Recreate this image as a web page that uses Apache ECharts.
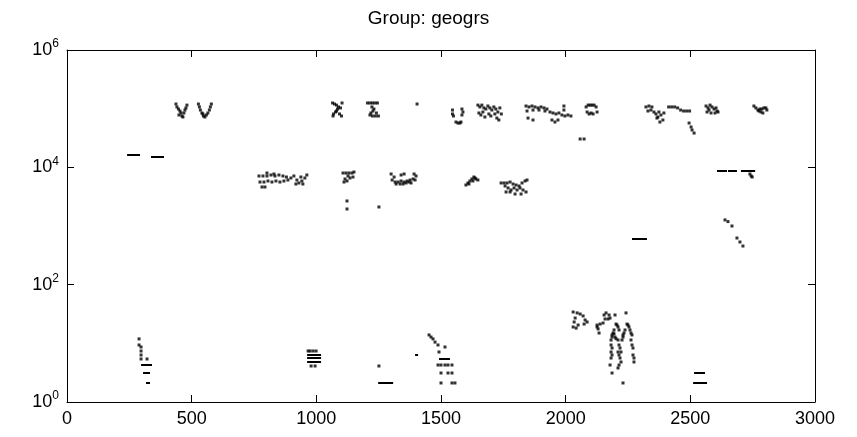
<!DOCTYPE html>
<html>
<head>
<meta charset="utf-8">
<script src="https://cdn.jsdelivr.net/npm/echarts@6/dist/echarts.min.js"></script>
<style>
  html, body { margin: 0; padding: 0; background: #fff; }
  #main { width: 857px; height: 437px; }
</style>
</head>
<body>
<div id="main"></div>
<script>
// chart text
var titleText = 'Group: geogrs';
var xTicks = [0, 500, 1000, 1500, 2000, 2500, 3000];
var yTicks = [1, 100, 10000, 1000000];

// points around 10^5
var topPts = [
  [437,120000],[441,107000],[447,98600],[453,91200],[457,84400],[461,75000],[465,72100],[469,84400],[473,94800],[477,103000],[481,115000],[449,78000],
  [527,120000],[531,107000],[535,94800],[541,84400],[547,75000],[553,72100],[559,78000],[565,84400],[571,94800],[575,107000],[579,120000],[545,81200],
  [1065,125000],[1073,120000],[1081,115000],[1089,107000],[1097,103000],[1103,125000],[1085,98600],[1077,87700],[1069,81200],[1067,75000],[1093,81200],[1101,75000],[1081,91200],
  [1205,125000],[1215,125000],[1225,125000],[1235,125000],[1245,125000],[1223,107000],[1231,98600],[1227,91200],[1219,84400],[1215,78000],[1225,75000],[1237,75000],[1249,75000],[1241,84400],
  [1404,120000],
  [1546,94800],[1546,81200],[1550,75000],[1584,98600],[1588,87700],[1584,78000],[1560,59200],[1568,56900],[1576,56900],[1580,59200],
  [1648,115000],[1656,107000],[1664,115000],[1672,103000],[1680,98600],[1688,111000],[1696,103000],[1704,94800],[1712,107000],[1720,98600],[1728,87700],[1736,103000],[1742,81200],
  [1652,84400],[1660,78000],[1668,87700],[1676,72100],[1692,81200],[1700,75000],[1716,81200],[1724,69200],[1732,64100],
  [1841,111000],[1853,107000],[1865,111000],[1877,107000],[1889,103000],[1901,107000],[1913,103000],[1925,98600],[1845,91200],[1869,94800],[1893,94800],[1917,91200],
  [1937,87700],[1949,84400],[1961,81200],[1973,84400],[1985,78000],[1997,75000],[2009,78000],[2021,75000],[1945,64100],[1957,59200],[1969,64100],[1993,111000],[1993,94800],[1849,69200],[1869,64100],
  [2058,30400],[2074,30400],
  [2082,107000],[2090,115000],[2098,115000],[2106,115000],[2114,115000],[2122,107000],[2086,87700],[2094,81200],[2110,81200],[2126,87700],[2102,84400],
  [2322,107000],[2334,111000],[2346,107000],[2330,91200],[2342,94800],[2354,87700],[2362,81200],[2370,72100],[2374,87700],[2382,78000],[2390,64100],[2378,59200],[2366,69200],[2394,84400],
  [2413,107000],[2425,107000],[2437,107000],[2449,103000],[2461,94800],[2473,91200],[2485,91200],[2497,91200],
  [2495,56900],[2503,48700],[2507,43300],[2515,38400],
  [2563,111000],[2571,103000],[2579,115000],[2587,107000],[2595,98600],[2603,103000],[2607,91200],[2567,87700],[2583,84400],[2599,84400],[2611,87700],[2575,94800],
  [2755,111000],[2763,103000],[2771,94800],[2779,98600],[2787,98600],[2795,103000],[2803,103000],[2807,94800],[2783,87700],[2791,84400],[2775,91200]
];

// points around 10^3 - 10^4
var midPts = [
  [770,7120],[786,7120],[802,7120],[818,7400],[834,7120],[850,7400],[866,7120],[774,5620],[790,5620],[806,5850],[822,5620],[838,5850],[854,5620],[870,5850],
  [886,6080],[898,6580],[910,7120],[922,6080],[930,5410],[942,5850],[954,6580],[962,7400],[918,5200],[946,5200],[802,8000],[830,7700],[880,6840],[938,6840],[782,4620],[794,4620],
  [1107,8000],[1119,8000],[1131,8000],[1143,8000],[1151,8320],[1127,7120],[1135,6580],[1115,6330],[1123,5850],[1147,6840],[1111,5620],
  [1300,7700],[1312,6840],[1340,7400],[1352,7700],[1392,7700],[1400,7120],[1304,6080],[1316,5620],[1328,5620],[1340,5850],[1352,5620],[1364,5850],[1376,6080],[1388,6330],[1396,6080],
  [1320,5200],[1336,5200],[1348,5200],[1360,5410],[1372,5620],[1380,5410],
  [1123,2670],[1123,1950],[1251,2110],
  [1600,5000],[1608,5410],[1616,5850],[1624,6330],[1632,6840],[1640,6330],[1648,6080],[1612,5200],[1628,5850],[1636,6580],
  [1741,5410],[1753,5410],[1765,5410],[1777,5620],[1789,5200],[1801,5000],[1813,4810],[1825,5410],[1837,5850],[1845,6080],[1757,4810],[1769,4450],[1781,4110],
  [1793,4450],[1805,4110],[1817,4450],[1829,4110],[1777,3800],[1797,3510],[1821,3510],[1841,3800],[1761,3800],
  [2739,7700],[2748,6840],[2744,7120],
  [2639,1270],[2651,1190],[2667,1000],[2687,624],[2699,534],[2711,456]
];

// points below 10^2
var lowPts = [
  [289,11.9],[289,9.37],[297,8.66],[297,7.40],[297,6.33],[297,5.41],[321,5.41],
  [967,7.40],[975,7.40],[987,7.40],[999,7.40],[979,4.11],[995,4.11],
  [1251,4.11],
  [1452,13.9],[1460,12.8],[1468,11.9],[1476,10.5],[1488,9.37],[1516,8.66],[1492,7.12],[1488,4.27],[1500,4.27],[1516,4.27],[1528,4.27],[1544,4.27],
  [1500,3.12],[1528,3.12],[1544,3.12],[1500,2.11],[1544,2.11],[1556,2.11],
  [2030,34.2],[2046,33],[2058,31.6],[2070,29.3],[2078,25],[2038,27],[2034,23.1],[2050,20.5],[2030,19],[2074,21.3],[2086,23.1],[2042,18.2],
  [2126,20.5],[2138,21.3],[2150,22.2],[2130,17.6],[2134,15.0],[2126,19.0],
  [2154,30.4],[2162,33],[2174,30.4],[2178,27],[2158,26],[2170,26],
  [2198,30.4],[2242,33],
  [2206,20.5],[2202,21.3],[2210,19],[2194,16.9],[2190,15],[2186,13.9],[2214,16.9],[2186,12.8],[2182,11.4],[2182,9.37],[2186,8.32],[2182,7.12],[2186,6.33],[2182,5.62],[2178,4.27],[2186,3.12],
  [2194,14.5],[2198,12.8],[2202,12.0],
  [2250,20.5],[2246,21.3],[2254,19],[2238,16.9],[2234,15],[2230,13.9],[2258,16.9],[2262,15],[2266,13.9],[2230,12.8],[2226,11.4],[2262,11.4],[2266,9.37],[2270,8.32],[2270,6.33],[2274,5.62],[2274,4.81],
  [2210,11.4],[2214,9.37],[2218,8.32],[2210,7.12],[2222,7.12],[2214,6.33],[2218,5.62],[2222,4.81],[2214,4.27],[2230,2.11],[2210,3.8]
];

// short horizontal runs: [xStart, xEnd, y]
var dashes = [
  [241, 293, 16200], [337, 389, 15100],
  [2607, 2647, 8650], [2651, 2687, 8650], [2703, 2760, 8650],
  [2266, 2326, 600],
  [297, 341, 4.27], [305, 333, 3.12], [317, 333, 2.11],
  [963, 1019, 6.33], [963, 1019, 5.62], [963, 1019, 4.81],
  [1248, 1308, 2.11], [1396, 1408, 6.33],
  [1492, 1536, 5.41],
  [2515, 2559, 3.12], [2511, 2567, 2.11]
];

var chart = echarts.init(document.getElementById('main'));

var font = "'Liberation Sans Narrow', 'Liberation Sans', Arial, sans-serif";

var dotStyle = {
  type: 'scatter',
  symbol: 'rect',
  symbolSize: 3,
  itemStyle: { color: '#000' },
  silent: true
};

var boxLine = { show: true, onZero: false, lineStyle: { color: '#000', width: 1 } };
var inTick = { show: true, inside: true, length: 7, lineStyle: { color: '#000' } };

function supLabel(v) {
  var e = Math.round(Math.log10(v));
  return '10{s|' + e + '}';
}

chart.setOption({
  animation: false,
  backgroundColor: '#fff',
  title: {
    text: titleText,
    left: 'center',
    top: 4,
    textStyle: { fontFamily: "'Liberation Sans', Arial, sans-serif", fontSize: 19, fontWeight: 'normal', color: '#000' }
  },
  grid: { left: 67, right: 42, top: 50, bottom: 35 },
  xAxis: [{
    type: 'value', min: 0, max: 3000, interval: 500,
    axisLine: boxLine, axisTick: inTick, splitLine: { show: false },
    axisLabel: { color: '#000', fontFamily: font, fontSize: 18, margin: 8,
      formatter: function (v) { return xTicks.indexOf(v) >= 0 ? String(v) : ''; } }
  }, {
    type: 'value', position: 'top', min: 0, max: 3000, interval: 500,
    axisLine: boxLine, axisTick: inTick, splitLine: { show: false }, axisLabel: { show: false }
  }],
  yAxis: [{
    type: 'log', logBase: 10, min: 1, max: 1000000, interval: 2,
    axisLine: boxLine, axisTick: inTick, splitLine: { show: false }, minorTick: { show: false },
    axisLabel: {
      color: '#000', fontFamily: font, fontSize: 18, margin: 8,
      formatter: function (v) { return yTicks.indexOf(v) >= 0 ? supLabel(v) : ''; },
      rich: { s: { fontFamily: font, fontSize: 12, color: '#000', padding: [0, 0, 12, 0] } }
    }
  }, {
    type: 'log', logBase: 10, min: 1, max: 1000000, interval: 2, position: 'right',
    axisLine: boxLine, axisTick: inTick, splitLine: { show: false }, axisLabel: { show: false }
  }],
  series: [
    Object.assign({ name: 'top', data: topPts }, dotStyle),
    Object.assign({ name: 'mid', data: midPts }, dotStyle),
    Object.assign({ name: 'low', data: lowPts }, dotStyle),
    {
      type: 'lines',
      coordinateSystem: 'cartesian2d',
      silent: true,
      lineStyle: { color: '#000', width: 2, opacity: 1 },
      data: dashes.map(function (d) { return { coords: [[d[0], d[2]], [d[1], d[2]]] }; })
    }
  ]
});

window.addEventListener('resize', function () { chart.resize(); });
</script>
</body>
</html>
